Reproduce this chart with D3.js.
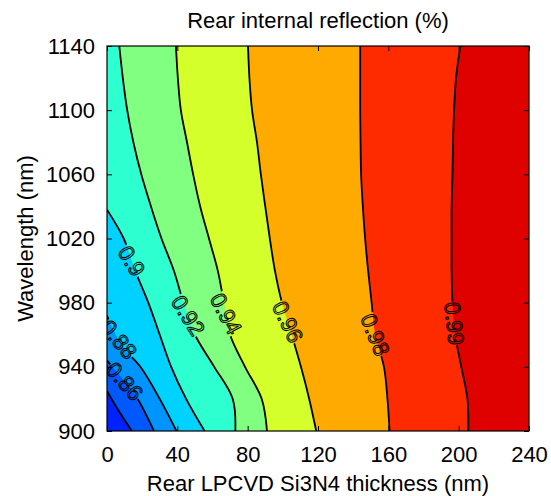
<!DOCTYPE html>
<html lang="en">
<head>
    <meta charset="UTF-8">
    <title>Rear internal reflection</title>
    <style>
        body { margin: 0; background: #fff; }
        text { font-family: "Liberation Sans", Arial, sans-serif; }
    </style>
</head>
<body>
<svg id="chart" width="551" height="496"></svg>
<script src="https://d3js.org/d3.v7.min.js"></script>

<script>
    /* global d3 */

    // contour levels and the fill colour of each band (band 0 is below the first level)
    let levels = [0.84, 0.86, 0.88, 0.90, 0.92, 0.94, 0.96, 0.98, 0.99];
    let bandColors = ["#0022ff", "#0058ff", "#0094ff", "#00d2ff", "#2effd1",
        "#80ff80", "#d4ff2b", "#ffaa00", "#ff2b00", "#df0000"];

    // contour lines: [thickness (nm), wavelength (nm)], bottom to top
    let line084 = [[14.2, 900], [7, 912], [0, 925]];
    let line086 = [[26.7, 900], [20, 915], [14, 926], [6, 936], [0, 944]];
    let line088 = [[39.5, 900], [30, 920], [19, 940], [10, 951], [4, 962], [0, 972]];
    let line090 = [[55.5, 900], [45, 920], [36.5, 940], [30, 960], [23.5, 980], [16, 1000],
        [9.5, 1020], [0, 1038]];
    let line092 = [[73, 900], [71.5, 920], [61, 940], [50, 960], [43.5, 980], [38, 1000],
        [31, 1020], [25, 1040], [19.5, 1060], [15, 1080], [11.5, 1100], [9, 1120], [7, 1140]];
    let line094 = [[91, 900], [88, 920], [78.5, 940], [70, 960], [66.5, 980], [63, 1000],
        [58, 1020], [53, 1040], [49, 1060], [45.5, 1080], [42, 1100], [40.3, 1120], [39.2, 1140]];
    let line096 = [[119, 900], [115, 920], [110.3, 940], [105, 960], [99.5, 980], [95.5, 1000],
        [92.6, 1020], [90, 1040], [87.5, 1060], [85.3, 1080], [82.5, 1100], [81, 1120], [80.2, 1140]];
    let line098 = [[160.7, 900], [159.5, 920], [157.5, 940], [152.5, 960], [150.5, 980], [148.5, 1000],
        [146.8, 1020], [145.5, 1040], [144.5, 1060], [144.2, 1080], [144, 1100], [144, 1120], [144, 1140]];
    let line099 = [[205.5, 900], [205, 920], [201.5, 940], [198, 960], [196.5, 980], [196, 1000],
        [196, 1020], [196, 1040], [196.5, 1060], [196.8, 1080], [197.4, 1100], [198.5, 1120], [201, 1140]];
    let contourLines = [line084, line086, line088, line090, line092, line094, line096, line098, line099];

    // inline labels: wavelength where each sits on its line, and its tilt (degrees)
    let labelWavelengths = [null, 931, 957, 1006, 972, 973, 968, 960, 967];
    let labelAngles = [null, 48, 50, 58, 58, 62, 64, 68, 84];

    let xTicks = [0, 40, 80, 120, 160, 200, 240];
    let yTicks = [900, 940, 980, 1020, 1060, 1100, 1140];

    let svg = d3.select("#chart"),
        pLeft = 107, pRight = 529, pTop = 46, pBottom = 431,
        x = d3.scaleLinear().domain([0, 240]).range([pLeft, pRight]),
        y = d3.scaleLinear().domain([900, 1140]).range([pBottom, pTop]);

    let lineGen = d3.line()
        .x(function (d) { return x(d[0]); })
        .y(function (d) { return y(d[1]); })
        .curve(d3.curveCatmullRom.alpha(0.5));

    let defs = svg.append("defs");
    defs.append("clipPath").attr("id", "plot-clip")
        .append("rect")
        .attr("x", pLeft).attr("y", pTop)
        .attr("width", pRight - pLeft).attr("height", pBottom - pTop);

    let plot = svg.append("g").attr("clip-path", "url(#plot-clip)");

    // filled bands, painted from the lowest level upward
    plot.append("rect")
        .attr("x", pLeft).attr("y", pTop)
        .attr("width", pRight - pLeft).attr("height", pBottom - pTop)
        .attr("fill", bandColors[0]);

    contourLines.forEach(function (pts, i) {
        let last = pts[pts.length - 1];
        let d = lineGen(pts);
        if (last[1] < 1140) d += "L" + x(0) + "," + y(1140);
        d += "L" + x(240) + "," + y(1140) + "L" + x(240) + "," + y(900) + "Z";
        plot.append("path")
            .attr("d", d)
            .attr("fill", bandColors[i + 1]);
    });

    // thickness of a line at a given wavelength
    function thicknessAt(pts, w) {
        for (let k = 0; k < pts.length - 1; k++) {
            let a = pts[k], b = pts[k + 1];
            if (w >= a[1] && w <= b[1]) {
                return a[0] + (w - a[1]) / (b[1] - a[1]) * (b[0] - a[0]);
            }
        }
        return null;
    }

    let labels = [];
    contourLines.forEach(function (pts, i) {
        let w = labelWavelengths[i];
        if (w === null) return;
        let t = thicknessAt(pts, w);
        if (t === null) return;
        labels.push({text: String(levels[i]), cx: x(t), cy: y(w), angle: labelAngles[i]});
    });

    let labelSize = 22;
    let mask = defs.append("mask").attr("id", "label-gaps")
        .attr("maskUnits", "userSpaceOnUse")
        .attr("x", 0).attr("y", 0).attr("width", 551).attr("height", 496);
    mask.append("rect").attr("width", 551).attr("height", 496).attr("fill", "white");
    labels.forEach(function (l) {
        let len = l.text.length * labelSize * 0.5;
        mask.append("rect")
            .attr("x", -len / 2).attr("y", -8)
            .attr("width", len).attr("height", 16)
            .attr("transform", "translate(" + l.cx + "," + l.cy + ") rotate(" + l.angle + ")")
            .attr("fill", "black");
    });

    plot.append("g")
        .attr("mask", "url(#label-gaps)")
        .selectAll("path")
        .data(contourLines)
        .join("path")
        .attr("d", lineGen)
        .attr("fill", "none")
        .attr("stroke", "#000")
        .attr("stroke-width", 1.8);

    plot.append("g")
        .selectAll("text")
        .data(labels)
        .join("text")
        .attr("transform", function (l) { return "translate(" + l.cx + "," + l.cy + ") rotate(" + l.angle + ")"; })
        .attr("text-anchor", "middle")
        .attr("dy", "0.35em")
        .attr("font-size", labelSize)
        .attr("fill", "none")
        .attr("stroke", "#000")
        .attr("stroke-width", 1)
        .text(function (l) { return l.text; });

    // axes with inward ticks on all four sides
    function styleAxis(g) {
        g.select(".domain").remove();
        g.selectAll("line").attr("stroke", "#000");
        g.selectAll("text").attr("font-size", 22).attr("fill", "#000")
            .attr("font-family", "Liberation Sans, Arial, sans-serif");
    }

    svg.append("g").attr("transform", "translate(0," + pBottom + ")")
        .call(d3.axisBottom(x).tickValues(xTicks).tickSizeInner(-5).tickSizeOuter(0).tickPadding(15))
        .call(styleAxis);
    svg.append("g").attr("transform", "translate(0," + pTop + ")")
        .call(d3.axisTop(x).tickValues(xTicks).tickSizeInner(-5).tickSizeOuter(0).tickFormat(""))
        .call(styleAxis);
    svg.append("g").attr("transform", "translate(" + pLeft + ",0)")
        .call(d3.axisLeft(y).tickValues(yTicks).tickSizeInner(-5).tickSizeOuter(0)
            .tickPadding(12).tickFormat(d3.format("d")))
        .call(styleAxis);
    svg.append("g").attr("transform", "translate(" + pRight + ",0)")
        .call(d3.axisRight(y).tickValues(yTicks).tickSizeInner(-5).tickSizeOuter(0).tickFormat(""))
        .call(styleAxis);

    svg.append("rect")
        .attr("x", pLeft).attr("y", pTop)
        .attr("width", pRight - pLeft).attr("height", pBottom - pTop)
        .attr("fill", "none")
        .attr("stroke", "#000")
        .attr("stroke-width", 1.2);

    svg.append("text")
        .attr("x", (pLeft + pRight) / 2).attr("y", 28)
        .attr("text-anchor", "middle")
        .attr("font-size", 22)
        .text("Rear internal reflection (%)");

    svg.append("text")
        .attr("x", (pLeft + pRight) / 2).attr("y", 491)
        .attr("text-anchor", "middle")
        .attr("font-size", 22)
        .text("Rear LPCVD Si3N4 thickness (nm)");

    svg.append("text")
        .attr("transform", "translate(33," + (pTop + pBottom) / 2 + ") rotate(-90)")
        .attr("text-anchor", "middle")
        .attr("font-size", 22)
        .text("Wavelength (nm)");
</script>
</body>
</html>
